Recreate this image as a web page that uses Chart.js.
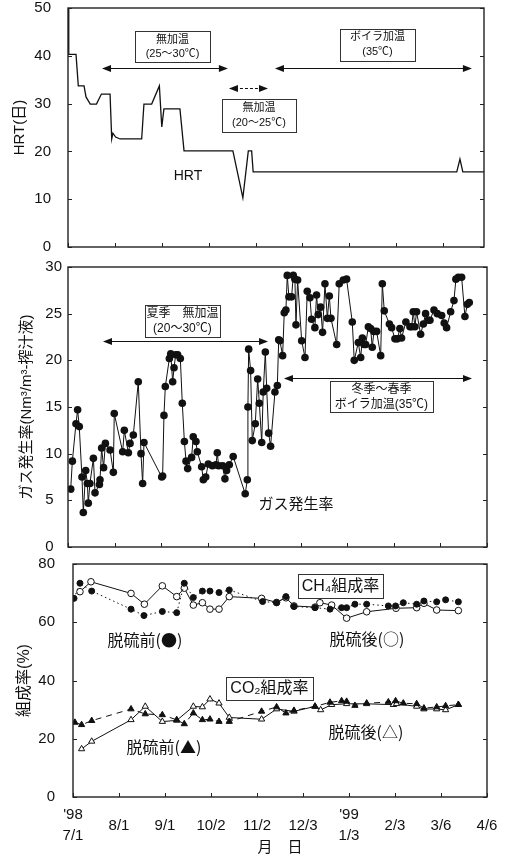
<!DOCTYPE html>
<html>
<head>
<meta charset="utf-8">
<script src="https://cdn.jsdelivr.net/npm/chart.js@4.4.1/dist/chart.umd.min.js"></script>
<style>
  body { margin: 0; background: #fff; }
  canvas { position: absolute; left: 0; }
</style>
</head>
<body>
<canvas id="hrt" width="512" height="256" style="top:0"></canvas>
<canvas id="gas" width="512" height="300" style="top:256px"></canvas>
<canvas id="comp" width="512" height="303" style="top:556px"></canvas>
<script>
// 日数は 1998/7/1 からの経過日
const xTickDays = [0, 31, 62, 93, 124, 155, 186, 217, 248, 279];
const xTickLabels = [["'98", '7/1'], '8/1', '9/1', '10/2', '11/2', '12/3', ["'99", '1/3'], '2/3', '3/6', '4/6'];

// HRT (日)
const hrtDays = [0.2, 0.5, 5.3, 6.8, 10.6, 11.9, 14.7, 18.8, 22.1, 27.8, 28.9, 29.7, 31.5, 34.4, 48.7, 50.2, 55.3, 60.4, 62.0, 63.4,
  74.0, 76.7, 109.0, 115.6, 119.2, 121.4, 122.4, 257.0, 259.1, 261.0, 275];
const hrtValues = [50, 40.3, 40.3, 33.7, 33.7, 31.4, 29.9, 29.9, 32.0, 32.0, 22.6, 23.8, 23.0, 22.6, 22.6, 29.9, 29.9, 33.7, 25.1, 28.9,
  28.9, 20.1, 20.1, 10.3, 20.1, 20.1, 15.7, 15.7, 18.4, 15.7, 15.7];

// ガス発生率
const gasDays = [1.8, 2.9, 5.3, 6.4, 7.5, 9.3, 10.2, 11.8, 12.9, 13.5, 14.6, 16.9, 18.0, 20.9, 21.3, 22.4, 23.7, 24.9, 28.0, 30.2,
  30.8, 36.4, 37.5, 40.2, 41.3, 43.5, 46.8, 48.6, 49.7, 50.6, 62.4, 63.0, 63.9, 64.8, 67.5, 68.4, 69.7, 70.6, 71.7, 73.0,
  74.8, 76.1, 77.5, 78.6, 79.7, 82.3, 83.4, 85.2, 86.1, 89.0, 90.1, 91.7, 93.4, 96.1, 98.5, 99.4, 100.3, 103.0, 104.5, 105.6,
  107.4, 110.0, 118.0, 119.4, 119.8, 120.3, 121.6, 122.7, 124.7, 126.3, 127.4, 129.0, 130.0, 131.4, 132.3, 133.6, 134.9, 137.8, 139.4, 140.3,
  141.1, 142.9, 144.0, 145.1, 146.0, 147.1, 148.9, 150.0, 151.1, 151.8, 152.9, 155.6, 157.8, 159.3, 161.1, 162.2, 164.4, 165.5, 166.6, 168.2,
  169.5, 171.1, 172.7, 174.0, 175.1, 178.9, 180.6, 183.3, 185.5, 189.3, 190.6, 193.3, 194.9, 196.0, 197.1, 198.2, 200.0, 201.5, 202.6, 203.7,
  205.5, 208.2, 209.3, 210.6, 214.0, 215.5, 217.7, 219.3, 221.0, 222.1, 225.0, 227.7, 228.8, 229.9, 231.0, 232.1, 234.8, 236.6, 238.1, 239.9,
  241.0, 243.7, 245.9, 248.8, 250.5, 252.1, 254.8, 257.0, 258.3, 259.9, 262.1, 264.3, 265.9, 267.2];
const gasValues = [6.2, 9.2, 13.2, 14.7, 12.9, 7.5, 3.7, 8.2, 6.8, 4.7, 6.8, 9.5, 5.8, 6.7, 7.2, 10.6, 8.5, 11.1, 10.4, 8.0,
  14.3, 10.2, 12.5, 10.1, 11.1, 12.0, 17.7, 10.0, 6.8, 11.2, 7.5, 7.6, 14.1, 17.2, 20.2, 20.7, 17.7, 19.2, 20.6, 20.6,
  20.2, 15.4, 11.3, 9.2, 8.4, 9.6, 11.8, 11.3, 10.2, 8.6, 7.2, 7.5, 8.9, 8.7, 8.8, 10.1, 8.7, 8.7, 7.3, 8.2,
  8.8, 9.7, 5.7, 7.2, 15.0, 21.2, 18.9, 11.4, 13.2, 18.0, 15.4, 11.2, 16.6, 20.9, 17.0, 12.2, 10.8, 16.6, 17.3, 22.2,
  22.1, 20.5, 25.1, 25.4, 29.1, 26.8, 26.8, 29.1, 28.7, 23.8, 28.6, 22.1, 20.3, 27.4, 26.7, 24.4, 23.5, 27.0, 24.9, 25.7,
  23.0, 28.2, 24.5, 26.9, 24.5, 21.7, 28.2, 28.6, 28.7, 24.1, 20.0, 21.9, 20.3, 22.4, 21.7, 21.7, 23.6, 23.4, 21.4, 23.1,
  23.1, 20.5, 28.2, 25.3, 23.9, 23.5, 22.3, 22.3, 23.4, 22.4, 24.1, 23.6, 23.6, 25.2, 23.6, 25.2, 22.8, 23.9, 25.0, 24.3,
  24.3, 25.4, 25.0, 24.8, 24.0, 23.5, 25.2, 26.4, 28.7, 28.9, 28.9, 24.7, 26.0, 26.2];

// CH4 組成率
const ch4BeforeDays = [0.7, 4.7, 12.6, 39.1, 47.8, 60.2, 69.9, 75.0, 81.1, 87.2, 92.3, 98.4, 105.3, 127.8, 137.2, 143.5,
  148.9, 163.1, 173.2, 181.0, 184.4, 190.0, 197.9, 212.5, 217.4, 222.6, 231.6, 236.5, 245.1, 251.1, 259.7];
const ch4BeforeValues = [68.2, 73.4, 70.7, 64.5, 62.3, 63.7, 63.3, 73.4, 68.5, 70.7, 70.7, 70.2, 71.1, 67.1, 66.7, 68.8,
  65.4, 65.0, 64.5, 65.0, 65.0, 66.2, 66.2, 65.6, 65.6, 66.7, 66.2, 67.3, 67.0, 67.7, 67.0];
const ch4AfterDays = [4.7, 12.1, 39.1, 48.1, 60.2, 69.9, 75.0, 81.1, 87.2, 92.3, 98.4, 105.3, 127.1, 137.2, 143.5, 148.9,
  163.1, 166.4, 174.3, 184.4, 197.9, 217.7, 231.6, 236.5, 245.1, 259.7];
const ch4AfterValues = [70.5, 73.9, 69.9, 66.2, 72.5, 68.8, 71.7, 65.9, 66.7, 64.5, 64.5, 68.8, 68.2, 66.8, 68.4, 65.6,
  65.2, 66.7, 65.9, 61.4, 63.6, 64.8, 65.0, 66.5, 64.2, 64.0];

// CO2 組成率
const co2BeforeDays = [1.3, 5.8, 12.6, 39.1, 48.7, 60.2, 69.9, 75.0, 81.1, 87.2, 92.3, 98.4, 105.3, 127.1, 137.2, 143.5,
  148.9, 163.1, 173.2, 181.0, 184.4, 190.0, 197.9, 212.5, 217.4, 222.6, 231.6, 236.5, 245.1, 251.1, 259.7];
const co2BeforeValues = [25.6, 24.8, 26.2, 30.2, 28.5, 28.2, 26.5, 25.1, 28.8, 26.5, 26.7, 25.9, 25.9, 29.4, 30.9, 28.8,
  29.7, 31.1, 32.5, 33.0, 32.8, 31.4, 32.2, 32.6, 33.0, 32.2, 32.0, 30.5, 30.9, 31.3, 31.7];
const co2AfterDays = [5.8, 12.6, 39.1, 48.7, 60.2, 69.9, 81.1, 87.2, 92.3, 98.4, 105.3, 127.1, 137.2, 148.9, 163.1, 166.9,
  174.3, 184.4, 197.9, 215.9, 218.0, 231.6, 236.5, 245.1, 251.1, 259.7];
const co2AfterValues = [16.5, 19.1, 26.5, 31.1, 25.9, 26.3, 31.1, 30.9, 33.6, 32.2, 27.3, 26.7, 30.2, 29.4, 31.1, 29.9,
  31.7, 32.0, 32.0, 31.7, 32.0, 31.1, 30.2, 30.2, 29.9, 31.7];

const FONT = "'Liberation Sans', 'Noto Sans CJK JP', sans-serif";
const CJK = "'Noto Sans CJK JP', sans-serif";
Chart.defaults.font.family = FONT;
Chart.defaults.color = '#111';

const pts = (days, vals) => days.map((d, i) => ({x: d, y: vals[i]}));

// 枠と内向きの目盛
const frame = {
  id: 'frame',
  afterDraw(chart) {
    const {ctx, chartArea: a, scales: {x, y}} = chart;
    ctx.save();
    ctx.strokeStyle = '#222';
    ctx.lineWidth = 1.4;
    ctx.strokeRect(a.left, a.top, a.right - a.left, a.bottom - a.top);
    ctx.lineWidth = 1;
    ctx.beginPath();
    y.ticks.forEach(t => {
      const py = Math.round(y.getPixelForValue(t.value)) + 0.5;
      ctx.moveTo(a.left, py); ctx.lineTo(a.left + 4, py);
      ctx.moveTo(a.right, py); ctx.lineTo(a.right - 4, py);
    });
    x.ticks.forEach(t => {
      const px = Math.round(x.getPixelForValue(t.value)) + 0.5;
      ctx.moveTo(px, a.bottom); ctx.lineTo(px, a.bottom - 4);
    });
    ctx.stroke();
    ctx.restore();
  }
};

// 注記(枠付き文字・矢印・文字)
const notes = (items) => ({
  id: 'notes',
  afterDatasetsDraw(chart) {
    const {ctx, scales: {x, y}} = chart;
    ctx.save();
    items.forEach(n => {
      if (n.type === 'arrow') {
        const x1 = x.getPixelForValue(n.x1), x2 = x.getPixelForValue(n.x2), py = Math.round(y.getPixelForValue(n.y)) + 0.5;
        ctx.strokeStyle = '#111';
        ctx.fillStyle = '#111';
        ctx.lineWidth = 1;
        ctx.setLineDash(n.dash || []);
        ctx.beginPath(); ctx.moveTo(x1 + 6, py); ctx.lineTo(x2 - 6, py); ctx.stroke();
        ctx.setLineDash([]);
        ctx.beginPath();
        ctx.moveTo(x1, py); ctx.lineTo(x1 + 9, py - 3.5); ctx.lineTo(x1 + 9, py + 3.5); ctx.closePath();
        ctx.moveTo(x2, py); ctx.lineTo(x2 - 9, py - 3.5); ctx.lineTo(x2 - 9, py + 3.5); ctx.closePath();
        ctx.fill();
        return;
      }
      const cx = x.getPixelForValue(n.x), cy = y.getPixelForValue(n.y);
      if (n.type === 'box') {
        ctx.fillStyle = '#fff';
        ctx.strokeStyle = '#333';
        ctx.lineWidth = 1;
        const l = Math.round(cx - n.w / 2) + 0.5, t = Math.round(cy - n.h / 2) + 0.5;
        ctx.fillRect(l, t, n.w, n.h);
        ctx.strokeRect(l, t, n.w, n.h);
      }
      ctx.fillStyle = '#111';
      ctx.font = n.size + 'px ' + (n.font || FONT);
      ctx.textAlign = 'center';
      ctx.textBaseline = 'middle';
      const lh = n.lh || n.size * 1.25;
      const lines = n.lines || [n.text];
      lines.forEach((s, i) => ctx.fillText(s, cx, cy + (i - (lines.length - 1) / 2) * lh));
    });
    ctx.restore();
  }
});

const xAxis = (max, showLabels, height) => ({
  type: 'linear', min: 0, max: max,
  grid: {display: false, drawTicks: false},
  border: {display: false},
  afterBuildTicks: s => { s.ticks = xTickDays.filter(d => d <= max).map(v => ({value: v})); },
  afterFit: s => { s.height = height; s.paddingLeft = 0; s.paddingRight = 0; },
  ticks: {
    display: showLabels, autoSkip: false, maxRotation: 0, minRotation: 0,
    crossAlign: 'center', padding: 18,
    font: {size: 15, lineHeight: 1.4},
    callback: v => xTickLabels[xTickDays.indexOf(v)]
  },
  title: {display: showLabels, text: '月　日', font: {size: 15}, padding: {top: 0, bottom: 2}}
});

const yAxis = (max, step, width, pad, title, titleSize, titlePad, fmt) => ({
  min: 0, max: max,
  grid: {display: false, drawTicks: false},
  border: {display: false},
  afterFit: s => { s.width = width; s.paddingTop = 0; s.paddingBottom = 0; },
  ticks: {stepSize: step, padding: pad, font: {size: 15}, callback: fmt || (v => v)},
  title: {display: true, text: title, font: {size: titleSize}, padding: {top: titlePad, bottom: 0}}
});

const common = (padTop, padRight) => ({
  responsive: false,
  animation: false,
  layout: {padding: {top: padTop, right: padRight, left: 0, bottom: 0}},
  plugins: {legend: {display: false}, tooltip: {enabled: false}}
});

new Chart(document.getElementById('hrt'), {
  type: 'line',
  data: {datasets: [{
    data: pts(hrtDays, hrtValues),
    borderColor: '#111', borderWidth: 1.3, pointRadius: 0, tension: 0
  }]},
  options: {
    ...common(8, 28),
    scales: {x: xAxis(275, false, 9), y: yAxis(50, 10, 68, 17, 'HRT(日)', 15, 11)}
  },
  plugins: [frame, notes([
    {type: 'box', x: 69.1, y: 41.9, w: 75, h: 31, size: 11, lh: 14, lines: ['無加温', '(25〜30℃)']},
    {type: 'arrow', x1: 22.5, x2: 105.7, y: 37.4},
    {type: 'arrow', x1: 106.4, x2: 132.2, y: 33.3, dash: [3, 2]},
    {type: 'box', x: 126.2, y: 27.6, w: 74, h: 33, size: 11, lh: 15, lines: ['無加温', '(20〜25℃)']},
    {type: 'box', x: 204.6, y: 42.3, w: 75, h: 32, size: 11, lh: 15, lines: ['ボイラ加温', '(35℃)']},
    {type: 'arrow', x1: 136.8, x2: 267, y: 37.4},
    {type: 'text', x: 79.3, y: 14.9, size: 14, text: 'HRT'}
  ])]
});

new Chart(document.getElementById('gas'), {
  type: 'line',
  data: {datasets: [{
    data: pts(gasDays, gasValues),
    borderColor: '#111', borderWidth: 1, tension: 0,
    pointRadius: 3.8, pointBackgroundColor: '#111', pointBorderColor: '#111', pointBorderWidth: 0
  }]},
  options: {
    ...common(11, 25),
    scales: {
      x: xAxis(279, false, 9),
      y: yAxis(30, 5, 68, 6, 'ガス発生率(Nm³/m³-搾汁液)', 15, 18, v => v < 10 ? v + '\u2007' : String(v))
    }
  },
  plugins: [frame, notes([
    {type: 'box', x: 76.2, y: 24.2, w: 75, h: 32, size: 12, lh: 15, lines: ['夏季　無加温', '(20〜30℃)']},
    {type: 'arrow', x1: 23.3, x2: 133.2, y: 22.1},
    {type: 'text', x: 151.8, y: 4.5, size: 15, text: 'ガス発生率'},
    {type: 'arrow', x1: 143.8, x2: 269, y: 18.1},
    {type: 'box', x: 208.7, y: 16.1, w: 103, h: 31, size: 12, lh: 15, lines: ['冬季〜春季', 'ボイラ加温(35℃)']}
  ])]
});

const marker = (style, fill, r) => ({
  pointStyle: style, pointRadius: r, pointBackgroundColor: fill,
  pointBorderColor: '#111', pointBorderWidth: 1
});

new Chart(document.getElementById('comp'), {
  type: 'line',
  data: {datasets: [
    {data: pts(ch4BeforeDays, ch4BeforeValues), borderColor: '#111', borderWidth: 1, borderDash: [1.5, 3], ...marker('circle', '#111', 3)},
    {data: pts(ch4AfterDays, ch4AfterValues), borderColor: '#111', borderWidth: 1, ...marker('circle', '#fff', 3.3)},
    {data: pts(co2BeforeDays, co2BeforeValues), borderColor: '#111', borderWidth: 1, borderDash: [6, 5], ...marker('triangle', '#111', 3.6)},
    {data: pts(co2AfterDays, co2AfterValues), borderColor: '#111', borderWidth: 1, ...marker('triangle', '#fff', 3.6)}
  ]},
  options: {
    ...common(8, 25),
    scales: {x: xAxis(279, true, 62), y: yAxis(80, 20, 73, 18, '組成率(%)', 16, 15)}
  },
  plugins: [frame, notes([
    {type: 'box', x: 180.3, y: 72.4, w: 85, h: 24, size: 16, text: 'CH₄組成率'},
    {type: 'text', x: 48.5, y: 53.9, size: 16, font: CJK, text: '脱硫前(●)'},
    {type: 'text', x: 198.1, y: 54.2, size: 16, font: CJK, text: '脱硫後(○)'},
    {type: 'box', x: 132.4, y: 37.3, w: 87, h: 23, size: 16, text: 'CO₂組成率'},
    {type: 'text', x: 61.3, y: 17.2, size: 16, font: CJK, text: '脱硫前(▲)'},
    {type: 'text', x: 197.4, y: 22.3, size: 16, font: CJK, text: '脱硫後(△)'}
  ])]
});
</script>
</body>
</html>
